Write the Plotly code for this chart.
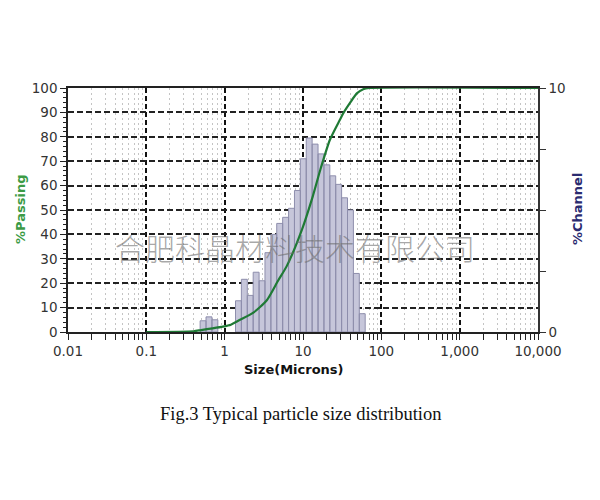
import plotly.graph_objects as go

# ---------------- data ----------------
# histogram channel edges (microns) and % in each channel
channel_lo = [0.486, 0.578, 0.688, 1.375, 1.635, 1.945, 2.312, 2.75, 3.27, 3.89, 4.62, 5.5,
              6.54, 7.78, 9.25, 11.0, 13.08, 15.56, 18.5, 22.0, 26.16, 31.11, 37.0, 44.0,
              52.33]
channel_hi = [0.578, 0.688, 0.818, 1.635, 1.945, 2.312, 2.75, 3.27, 3.89, 4.62, 5.5, 6.54,
              7.78, 9.25, 11.0, 13.08, 15.56, 18.5, 22.0, 26.16, 31.11, 37.0, 44.0, 52.33,
              62.23]
channel_pct = [0.46, 0.62, 0.50, 1.28, 2.16, 1.50, 2.45, 2.10, 3.25, 4.0, 4.45, 4.7,
               5.07, 5.8, 7.1, 7.95, 7.7, 7.3, 6.85, 6.4, 6.05, 5.5, 5.0, 2.4,
               0.75]

# cumulative % passing curve
passing_size = [0.1, 0.4, 0.5, 0.7, 0.95, 1.2, 1.57, 2.3, 3.45, 4.8, 6.2, 9.7, 13.3, 16.6,
                22.0, 29.6, 32.6, 40.0, 48.6, 58.7, 70.0, 10000.0]
passing_pct = [0, 0.3, 0.8, 1.5, 2.2, 3.0, 5.0, 7.8, 13.0, 21.0, 27.0, 42.0, 55.5, 66.4,
               78.7, 87.0, 89.6, 94.0, 97.8, 99.5, 100.0, 100.0]

x_tickvals = [0.01, 0.1, 1, 10, 100, 1000, 10000]
x_ticktext = ["0.01", "0.1", "1", "10", "100", "1,000", "10,000"]
left_ticks = list(range(0, 101, 10))
right_tickvals = [0, 2.5, 5, 7.5, 10]
right_ticktext = ["0", "", "", "", "10"]

# ---------------- build figure ----------------
bx, by = [], []
for lo, hi, v in zip(channel_lo, channel_hi, channel_pct):
    bx += [lo, lo, hi, hi, lo, None]
    by += [0, v, v, 0, 0, None]

fig = go.Figure()
fig.add_trace(go.Scatter(x=bx, y=by, mode="lines", fill="toself",
                         fillcolor="#c6c6da", line=dict(color="#8e8eac", width=1),
                         yaxis="y", hoverinfo="skip", showlegend=False))
fig.add_trace(go.Scatter(x=passing_size, y=passing_pct, mode="lines",
                         line=dict(color="#1f7a35", width=2.2, shape="spline", smoothing=0.6),
                         yaxis="y2", showlegend=False))

minor_x = [m * 10 ** e for e in range(-2, 4) for m in range(2, 10)]

font_tick = "DejaVu Sans, Arial, sans-serif"
font_title = "DejaVu Sans, Arial, sans-serif"

# the page body adds an 8px offset, so margins are reduced by 8px
L, T = 60, 80
PW, PH = 470.0, 244.0
fig.update_layout(
    width=600, height=500,
    margin=dict(l=L, r=600 - L - PW, t=T, b=500 - T - PH),
    paper_bgcolor="white", plot_bgcolor="white",
    font=dict(family=font_tick, size=13, color="#222"),
    xaxis=dict(type="log", range=[-2, 4], tickvals=x_tickvals, ticktext=x_ticktext,
               ticks="outside", ticklen=6, tickcolor="#222", tickwidth=1.2,
               showline=True, linecolor="#222", linewidth=1.5, mirror=True,
               showgrid=True, gridcolor="#111", gridwidth=2, griddash="5px,3px",
               minor=dict(tickvals=minor_x, ticks="outside", ticklen=6, tickcolor="#222",
                          showgrid=True, gridcolor="#c4c4c4", gridwidth=1, griddash="2px,3px"),
               zeroline=False, anchor="y", tickfont=dict(size=13.5, color="#333")),
    yaxis=dict(side="right", range=[0, 10], tickvals=right_tickvals, ticktext=right_ticktext,
               ticks="outside", ticklen=6, tickcolor="#333", showgrid=False, zeroline=False,
               showline=True, linecolor="#333", linewidth=1.5,
               tickfont=dict(size=13.5, color="#333")),
    yaxis2=dict(side="left", overlaying="y", range=[0, 100], tickvals=left_ticks,
                ticks="outside", ticklen=6, tickcolor="#222",
                showline=True, linecolor="#222", linewidth=1.5,
                showgrid=True, gridcolor="#222", gridwidth=1.5, griddash="6px,3px",
                minor=dict(dtick=2, ticks="outside", ticklen=3, tickcolor="#222", showgrid=False),
                zeroline=False, tickfont=dict(size=13.5, color="#333")),
)

def px(xp):
    return (xp - 68) / PW
def py(yp):
    return (332 - yp) / PH

annotations = [
    dict(text="<b>%Passing</b>", x=px(20), y=py(210), textangle=-90,
         font=dict(size=13, color="#3b9b45", family=font_title)),
    dict(text="<b>%Channel</b>", x=px(577), y=py(209), textangle=-90,
         font=dict(size=13, color="#2b2b70", family=font_title)),
    dict(text="<b>Size(Microns)</b>", x=px(294), y=py(369),
         font=dict(size=13, color="#111", family=font_title)),
    dict(text="Fig.3 Typical particle size distribution", x=px(300), y=py(414),
         font=dict(size=18.5, color="#111", family="Liberation Serif, Times New Roman, serif")),
    dict(text="合肥科晶材料技术有限公司", x=px(295), y=py(247),
         font=dict(size=30, color="rgba(110,110,110,0.6)", family="Noto Sans CJK SC",
                   weight=300)),
]
for a in annotations:
    a.update(xref="paper", yref="paper", showarrow=False, xanchor="center", yanchor="middle")
fig.update_layout(annotations=annotations)

fig.write_html("out.html")
